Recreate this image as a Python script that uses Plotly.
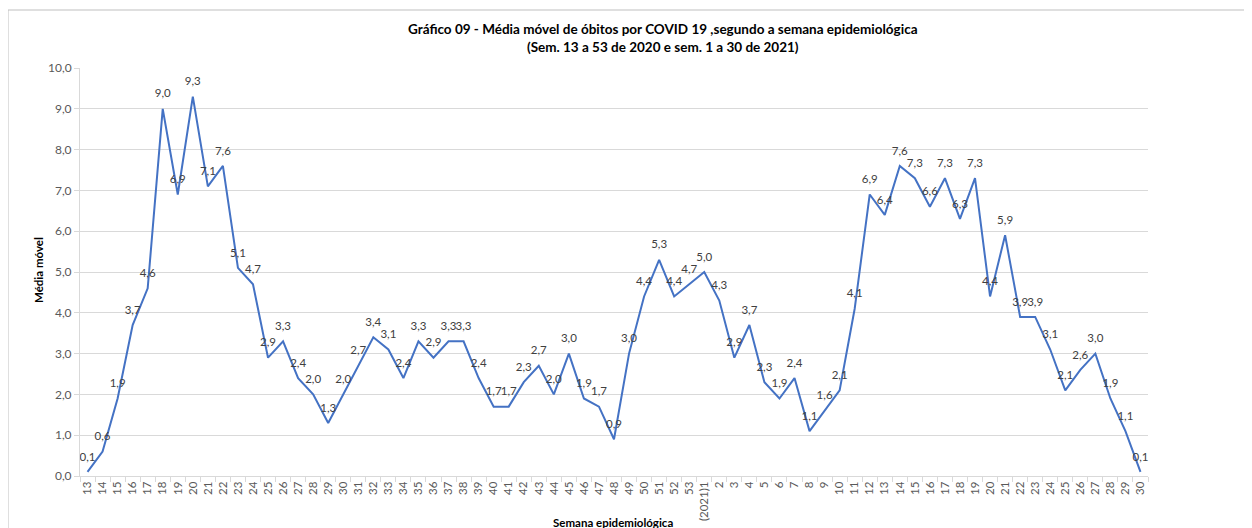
import plotly.graph_objects as go

weeks_2020 = [str(w) for w in range(13, 54)]
weeks_2021 = ["(2021)1"] + [str(w) for w in range(2, 31)]
categories = weeks_2020 + weeks_2021

values_2020 = [0.1, 0.6, 1.9, 3.7, 4.6, 9.0, 6.9, 9.3, 7.1, 7.6,
               5.1, 4.7, 2.9, 3.3, 2.4, 2.0, 1.3, 2.0, 2.7, 3.4,
               3.1, 2.4, 3.3, 2.9, 3.3, 3.3, 2.4, 1.7, 1.7, 2.3,
               2.7, 2.0, 3.0, 1.9, 1.7, 0.9, 3.0, 4.4, 5.3, 4.4, 4.7]
values_2021 = [5.0, 4.3, 2.9, 3.7, 2.3, 1.9, 2.4, 1.1, 1.6, 2.1,
               4.1, 6.9, 6.4, 7.6, 7.3, 6.6, 7.3, 6.3, 7.3, 4.4,
               5.9, 3.9, 3.9, 3.1, 2.1, 2.6, 3.0, 1.9, 1.1, 0.1]
values = values_2020 + values_2021

y_ticks = [i for i in range(0, 11)]

# category slots (one per week, in order) used as x positions
slots = list(range(len(categories)))

FONT = "Lato, 'Open Sans', sans-serif"
GRID = "#d9d9d9"

fig = go.Figure()
fig.add_trace(go.Scatter(
    x=slots, y=values,
    mode="lines+markers+text",
    line=dict(color="#4472C4", width=2),
    marker=dict(size=12, color="rgba(0,0,0,0)", line=dict(width=0)),
    text=[f"{v:.1f}".replace(".", ",") for v in values],
    textposition="top center",
    textfont=dict(family=FONT, size=11.5, color="#404040"),
    customdata=categories,
    hovertemplate="%{customdata}: %{y}<extra></extra>",
    showlegend=False,
    cliponaxis=False,
))

# page body has an 8px margin: figure coords = screen coords - 8
OFF = 8
L = 80 - OFF
T = 68 - OFF
W = 1068
H = 408
R = 1252 - L - W
B = 528 - T - H

fig.update_layout(
    width=1252, height=528,
    margin=dict(l=L, r=R, t=T, b=B),
    paper_bgcolor="white", plot_bgcolor="white",
    separators=",.",
    font=dict(family=FONT, size=11, color="#595959"),
    xaxis=dict(
        tickmode="array", tickvals=slots, ticktext=categories,
        tickangle=-90,
        ticks="outside", ticklen=0, tickcolor="rgba(0,0,0,0)",
        minor=dict(ticks="outside", tick0=-0.5, dtick=1, ticklen=5,
                   tickcolor=GRID, showgrid=False),
        showline=True, linecolor=GRID, linewidth=1,
        showgrid=False, zeroline=False,
        tickfont=dict(family=FONT, size=11.5, color="#595959"),
        range=[-0.5, len(categories) - 0.5],
        fixedrange=True,
    ),
    yaxis=dict(
        range=[0, 10],
        tickmode="array", tickvals=y_ticks,
        tickformat=".1f",
        ticks="outside", ticklen=5, tickcolor=GRID,
        showline=True, linecolor=GRID, linewidth=1,
        showgrid=True, gridcolor=GRID, gridwidth=1,
        zeroline=False,
        tickfont=dict(family=FONT, size=12, color="#595959"),
        fixedrange=True,
    ),
    annotations=[
        dict(text="<b>Gráfico 09 - Média móvel de óbitos por COVID 19 ,segundo a semana epidemiológica</b><br>"
                  "<b>(Sem. 13 a 53 de 2020 e sem. 1 a 30 de 2021)</b>",
             xref="paper", yref="paper",
             x=(663 - 80) / W, y=1 + (68 - 38) / H,
             xanchor="center", yanchor="middle", showarrow=False,
             font=dict(family=FONT, size=13.5, color="#000000")),
        dict(text="<b>Média móvel</b>", textangle=-90,
             xref="paper", yref="paper",
             x=(38 - 80) / W, y=(476 - 270) / H,
             xanchor="center", yanchor="middle", showarrow=False,
             font=dict(family=FONT, size=11.5, color="#000000")),
        dict(text="<b>Semana epidemiológica</b>",
             xref="paper", yref="paper",
             x=(613 - 80) / W, y=-(522 - 476) / H,
             xanchor="center", yanchor="middle", showarrow=False,
             font=dict(family=FONT, size=11.5, color="#000000")),
    ],
    shapes=[
        dict(type="rect", xref="paper", yref="paper",
             x0=(8 - 80) / W, x1=1.3, y0=-0.3, y1=1 + (68 - 10) / H,
             line=dict(color="#bfbfbf", width=1), fillcolor="rgba(0,0,0,0)",
             layer="below"),
    ],
)

fig.write_html("out.html")
